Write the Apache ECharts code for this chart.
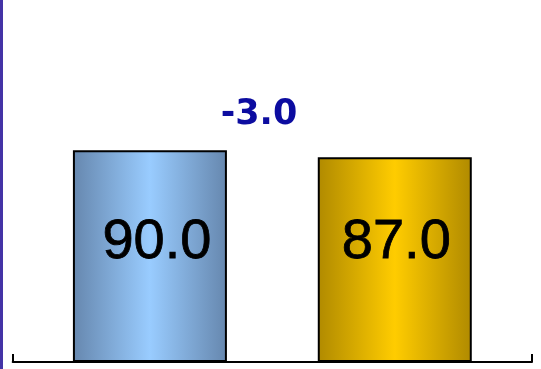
<!DOCTYPE html>
<html>
<head>
<meta charset="utf-8">
<script src="https://cdn.jsdelivr.net/npm/echarts@6/dist/echarts.min.js"></script>
<style>
  html, body { margin: 0; padding: 0; background: #ffffff; }
  #chart { width: 541px; height: 369px; }
</style>
</head>
<body>
<div id="chart"></div>
<script>
// Two periods compared side by side, with the change printed above them.
const periods = ['previous', 'current'];
const scores = [90.0, 87.0];
const axisCategories = [''];

// Horizontal "cylinder" shading for each bar.
const barFills = [
  ['#6687ae', '#99ccff', '#6687ae'],
  ['#b08a00', '#ffcc00', '#b08a00']
];
const labelOffsets = [[7, -14], [1.5, -17]];

function shade(stops) {
  return new echarts.graphic.LinearGradient(0, 0, 1, 0, [
    { offset: 0, color: stops[0] },
    { offset: 0.5, color: stops[1] },
    { offset: 1, color: stops[2] }
  ]);
}

const change = scores[1] - scores[0];
const changeText = (change < 0 ? '-' : '+') + Math.abs(change).toFixed(1);

const chart = echarts.init(document.getElementById('chart'), null, { renderer: 'canvas' });

chart.setOption({
  animation: false,
  backgroundColor: '#ffffff',
  grid: { left: 12.7, right: 9, top: 9, bottom: 7 },
  xAxis: {
    type: 'category',
    data: axisCategories,
    boundaryGap: true,
    axisLine: { show: true, lineStyle: { color: '#000000', width: 2 } },
    axisTick: { show: true, inside: true, length: 8, lineStyle: { color: '#000000', width: 2 } },
    axisLabel: { show: false },
    splitLine: { show: false }
  },
  yAxis: {
    type: 'value',
    min: 0,
    max: 150,
    show: false,
    splitLine: { show: false }
  },
  series: periods.map((name, i) => ({
    name: name,
    type: 'bar',
    data: [scores[i]],
    barWidth: 154,
    barGap: '59%',
    itemStyle: {
      color: shade(barFills[i]),
      borderColor: '#000000',
      borderWidth: 2
    },
    label: {
      show: true,
      position: 'inside',
      offset: labelOffsets[i],
      formatter: (p) => p.value.toFixed(1),
      color: '#000000',
      textBorderColor: '#000000',
      textBorderWidth: 0.8,
      fontFamily: '"Liberation Sans", Arial, sans-serif',
      fontSize: 56
    }
  })),
  graphic: [
    {
      type: 'rect',
      left: 0,
      top: 0,
      shape: { width: 3, height: 369 },
      style: { fill: '#4433a6' },
      silent: true
    },
    {
      type: 'text',
      x: 259,
      y: 115,
      style: {
        text: changeText,
        fill: '#0c0ca0',
        font: 'bold 35px "DejaVu Sans", sans-serif',
        textAlign: 'center',
        textVerticalAlign: 'middle'
      },
      silent: true
    }
  ]
});
</script>
</body>
</html>
